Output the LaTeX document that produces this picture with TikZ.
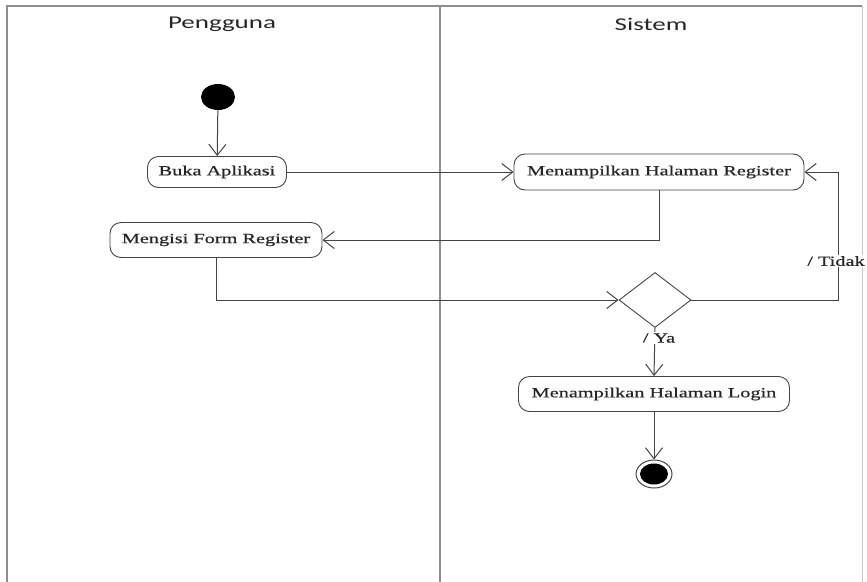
\documentclass[tikz,border=0pt]{standalone}
\usepackage{fontspec}
\usetikzlibrary{shapes.geometric,arrows.meta}
\newfontfamily\nodefont[FakeStretch=1.45,FakeBold=0.6]{Liberation Serif}
\newfontfamily\headfont[FakeStretch=1.5]{Carlito}
\definecolor{lane}{HTML}{8E8E8E}
\definecolor{ink}{HTML}{444444}
\tikzset{
  act/.style={draw=ink, line width=0.9pt, rounded corners=11pt, fill=white,
    font=\nodefont\fontsize{14}{16}\selectfont, text=black!85, inner sep=0pt},
  flow/.style={draw=ink, line width=1pt, -{Straight Barb[length=11pt,width=17pt]}},
  lanehead/.style={font=\headfont\fontsize{18}{20}\selectfont, text=black!85},
  guard/.style={font=\nodefont\fontsize{14}{16}\selectfont, text=black!85, fill=white, inner sep=1pt},
  laneline/.style={draw=lane, line width=2pt}
}
\begin{document}
\begin{tikzpicture}[x=1pt,y=-1pt]
\useasboundingbox (0,0) rectangle (867,581);
% swimlanes
\draw[laneline] (7,582) -- (7,6) -- (862,6);
\draw[laneline] (440,6) -- (440,582);
\draw[draw=lane!50, line width=1pt] (862,6) -- (862,582);
\node[lanehead] (h1) at (222,24) {Pengguna};
\node[lanehead] (h2) at (651,24) {Sistem};
% nodes
\node[ellipse, fill=black, minimum width=34pt, minimum height=26pt, inner sep=0pt] (start) at (218,97) {};
\node[act, minimum width=139pt, minimum height=31pt] (buka) at (217,172) {Buka Aplikasi};
\node[act, minimum width=290pt, minimum height=36pt] (reg) at (659,172) {Menampilkan Halaman Register};
\node[act, minimum width=212pt, minimum height=35pt] (isi) at (216,240) {Mengisi Form Register};
\node[diamond, draw=ink, line width=0.9pt, minimum width=72pt, minimum height=55pt, inner sep=0pt, aspect=1.3] (dec) at (655,300) {};
\node[act, minimum width=271pt, minimum height=35pt] (login) at (654,394) {Menampilkan Halaman Login};
\node[ellipse, draw=ink, line width=1pt, fill=white, minimum width=36pt, minimum height=28pt, inner sep=0pt] (endo) at (654,474) {};
\node[ellipse, fill=black, minimum width=28pt, minimum height=21pt, inner sep=0pt] (endi) at (654,474) {};
\coordinate (tk) at (838,300);
% connectors
\draw[flow] (start) -- (buka);
\draw[flow] (buka) -- (reg);
\draw[flow] (reg.south) |- (isi.east);
\draw[flow] (isi.south) |- (dec.west);
\draw[flow] (dec.east) -- (tk) |- (reg.east);
\draw[flow] (dec.south) -- (login.north);
\draw[flow] (login.south) -- (endo.north);
% guards
\node[guard] (gt) at (836,261) {/ Tidak};
\node[guard] (gy) at (659,338) {/ Ya};
\end{tikzpicture}
\end{document}
